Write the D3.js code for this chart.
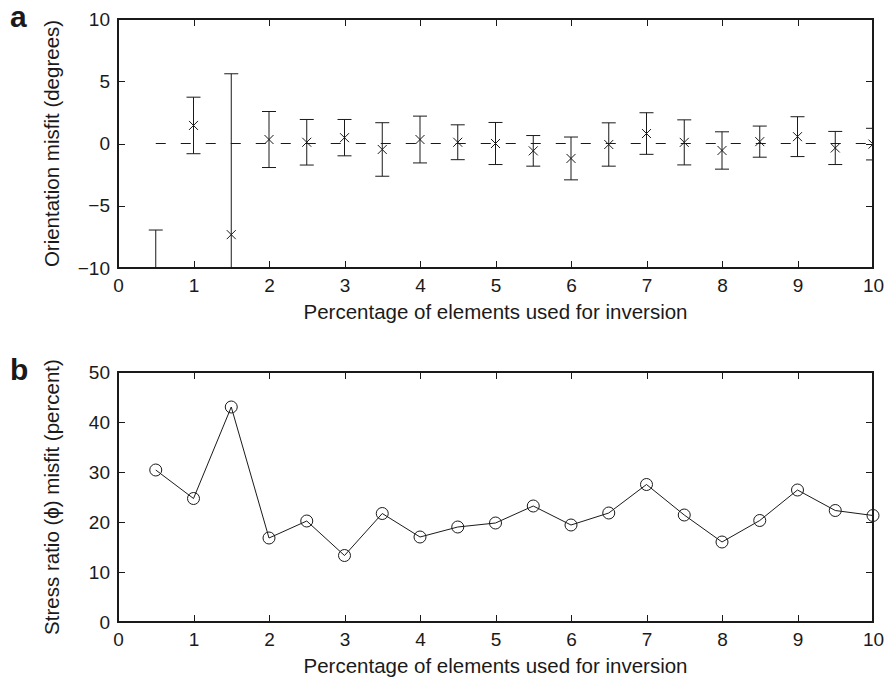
<!DOCTYPE html>
<html><head><meta charset="utf-8">
<script src="https://cdnjs.cloudflare.com/ajax/libs/d3/7.8.5/d3.min.js"></script>
<style>
body{margin:0;background:#fff}
svg{display:block}
text{font-family:"Liberation Sans",Arial,Helvetica,sans-serif;fill:#1a1a1a}
</style>
</head><body>
<svg id="chart" width="887" height="688"></svg>
<script>
// ---- data ----
const percentUsed = [0.5,1,1.5,2,2.5,3,3.5,4,4.5,5,5.5,6,6.5,7,7.5,8,8.5,9,9.5,10];
const orientationMean = [-12.5,1.45,-7.32,0.32,0.1,0.47,-0.48,0.32,0.1,0.0,-0.59,-1.2,-0.08,0.8,0.09,-0.56,0.15,0.55,-0.36,-0.05];
const orientationErr  = [5.55,2.27,12.92,2.25,1.83,1.46,2.15,1.88,1.4,1.69,1.23,1.72,1.74,1.67,1.81,1.5,1.25,1.6,1.33,1.27];
const phiMisfit = [30.4,24.7,43.0,16.8,20.2,13.3,21.7,17.0,19.0,19.8,23.2,19.4,21.8,27.5,21.4,16.0,20.3,26.4,22.3,21.3];
const xTicks = [0,1,2,3,4,5,6,7,8,9,10];
const yTicksA = [-10,-5,0,5,10];
const yTicksB = [0,10,20,30,40,50];
const xLabel = "Percentage of elements used for inversion";
const yLabelA = "Orientation misfit (degrees)";
const yLabelB = "Stress ratio (\u03D5) misfit (percent)";

// ---- layout ----
const svg = d3.select("#chart");
const L = 118, R = 873;
const panels = [
  {top:19, bottom:268, domain:[-10,10], ticks:yTicksA, label:yLabelA, tag:"a", id:"a"},
  {top:372, bottom:622, domain:[0,50], ticks:yTicksB, label:yLabelB, tag:"b", id:"b"}
];
const x = d3.scaleLinear().domain([0,10]).range([L,R]);
const ink = "#1a1a1a";
const tickFont = 19, labelFont = 20.5;

panels.forEach(p => {
  const y = d3.scaleLinear().domain(p.domain).range([p.bottom,p.top]);
  p.y = y;
  const g = svg.append("g");
  svg.append("clipPath").attr("id","clip"+p.id).append("rect")
    .attr("x",L).attr("y",p.top).attr("width",R-L).attr("height",p.bottom-p.top);

  const ax = (axis, tr, labels) => {
    const a = g.append("g").attr("transform",tr)
      .call(axis.tickSizeInner(-7).tickSizeOuter(0));
    a.select(".domain").remove();
    a.selectAll("line").attr("stroke",ink).attr("shape-rendering","crispEdges");
    a.selectAll("text").attr("font-size",tickFont).style("font-family","'Liberation Sans',Arial,sans-serif").attr("fill",ink);
    if(!labels) a.selectAll("text").remove();
    return a;
  };
  ax(d3.axisBottom(x).tickValues(xTicks).tickFormat(d3.format("d")).tickPadding(11), `translate(0,${p.bottom})`, true);
  ax(d3.axisTop(x).tickValues(xTicks), `translate(0,${p.top})`, false);
  ax(d3.axisLeft(y).tickValues(p.ticks).tickFormat(d3.format("d")).tickPadding(8), `translate(${L},0)`, true);
  ax(d3.axisRight(y).tickValues(p.ticks), `translate(${R},0)`, false);

  g.append("rect").attr("x",L).attr("y",p.top).attr("width",R-L).attr("height",p.bottom-p.top)
    .attr("fill","none").attr("stroke",ink).attr("stroke-width",1.2).attr("shape-rendering","crispEdges");

  g.append("text").attr("x",(L+R)/2).attr("y",p.bottom+51).attr("text-anchor","middle")
    .attr("font-size",labelFont).text(xLabel);
  g.append("text").attr("transform",`translate(59,${(p.top+p.bottom)/2}) rotate(-90)`)
    .attr("text-anchor","middle").attr("font-size",labelFont).text(p.label);
  g.append("text").attr("x",10).attr("y",p.top+8).attr("font-size",30).attr("font-weight","bold")
    .text(p.tag);
});

// ---- panel a: error bars ----
{
  const p = panels[0], y = p.y;
  const d = percentUsed.map((v,i)=>({x:v, m:orientationMean[i], e:orientationErr[i]}));
  const g = svg.append("g").attr("clip-path","url(#clipa)");
  g.append("line").attr("x1",x(percentUsed[0])).attr("x2",x(percentUsed[percentUsed.length-1]))
    .attr("y1",y(0)).attr("y2",y(0)).attr("stroke",ink).attr("stroke-width",1)
    .attr("stroke-dasharray","10,15");
  const cap = 7, mk = 4.5;
  const eb = g.selectAll(".eb").data(d).join("g").attr("class","eb")
    .attr("stroke",ink).attr("stroke-width",1).attr("fill","none");
  eb.append("line").attr("x1",q=>x(q.x)).attr("x2",q=>x(q.x)).attr("y1",q=>y(q.m-q.e)).attr("y2",q=>y(q.m+q.e));
  eb.append("line").attr("x1",q=>x(q.x)-cap).attr("x2",q=>x(q.x)+cap).attr("y1",q=>y(q.m+q.e)).attr("y2",q=>y(q.m+q.e));
  eb.append("line").attr("x1",q=>x(q.x)-cap).attr("x2",q=>x(q.x)+cap).attr("y1",q=>y(q.m-q.e)).attr("y2",q=>y(q.m-q.e));
  eb.append("path").attr("d",q=>{const cx=x(q.x), cy=y(q.m);
    return `M${cx-mk},${cy-mk}L${cx+mk},${cy+mk}M${cx-mk},${cy+mk}L${cx+mk},${cy-mk}`;});
}

// ---- panel b: line with circles ----
{
  const p = panels[1], y = p.y;
  const d = percentUsed.map((v,i)=>({x:v, v:phiMisfit[i]}));
  const g = svg.append("g");
  g.append("path").datum(d).attr("fill","none").attr("stroke",ink).attr("stroke-width",1)
    .attr("d",d3.line().x(q=>x(q.x)).y(q=>y(q.v)));
  g.selectAll("circle").data(d).join("circle").attr("cx",q=>x(q.x)).attr("cy",q=>y(q.v))
    .attr("r",6).attr("fill","none").attr("stroke",ink).attr("stroke-width",1);
}
</script>
</body></html>
